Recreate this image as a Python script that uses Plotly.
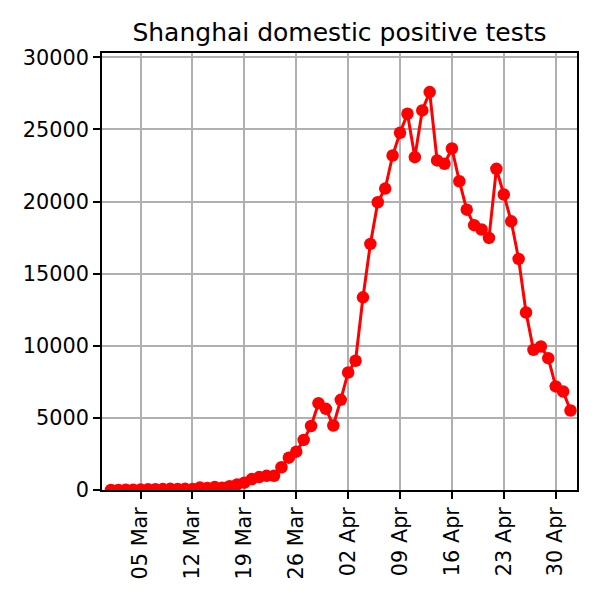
import pandas as pd
import plotly.graph_objects as go

start_date = "2022-03-01"
march = [2, 8, 16, 19, 28, 45, 55, 65, 79, 75, 83, 65, 169, 139, 202, 158, 260, 374,
         509, 758, 896, 981, 983, 1580, 2240, 2660, 3470, 4440, 6020, 5625, 4470]
april = [6250, 8150, 8960, 13360, 17060, 19950, 20900, 23190, 24770, 26090, 23080,
         26320, 27590, 22850, 22620, 23680, 21410, 19440, 18360, 18060, 17480, 22270,
         20490, 18630, 16020, 12310, 9720, 9950, 9140, 7180]
may = [6830, 5510]
values = march + april + may
dates = pd.date_range(start_date, periods=len(values), freq="D")

y_ticks = [0, 5000, 10000, 15000, 20000, 25000, 30000]
x_tick_dates = ["2022-03-05", "2022-03-12", "2022-03-19", "2022-03-26", "2022-04-02",
                "2022-04-09", "2022-04-16", "2022-04-23", "2022-04-30"]
title = "Shanghai domestic positive tests"

W, H = 592, 592
fig = go.Figure()
fig.add_trace(go.Scatter(
    x=dates, y=values, mode="lines+markers",
    line=dict(color="#ff0000", width=3),
    marker=dict(color="#ff0000", size=12.5),
    showlegend=False,
))

font_family = "DejaVu Sans"
tick_size = 20.8
fig.update_layout(
    width=W, height=H,
    margin=dict(l=94, r=23, t=45, b=110),
    paper_bgcolor="white", plot_bgcolor="white",
    font=dict(family=font_family, size=tick_size, color="black"),
    title=dict(text=title, x=331.5 / W, xanchor="center",
               y=1 - 24 / H, yanchor="middle",
               font=dict(family=font_family, size=25, color="black")),
)

axis_common = dict(
    showgrid=True, gridcolor="#b0b0b0", gridwidth=1.6,
    showline=True, linecolor="black", linewidth=1.6, mirror=True,
    ticks="outside", ticklen=7, tickwidth=1.6, tickcolor="black",
    tickfont=dict(family=font_family, size=tick_size, color="black"),
    zeroline=False,
)
fig.update_xaxes(
    type="date",
    range=["2022-02-27 19:00", "2022-05-02 21:00"],
    tickvals=x_tick_dates, tickformat="%d %b", tickangle=-90,
    **axis_common,
)
fig.update_yaxes(
    range=[0, 30300],
    tickvals=y_ticks, tickformat="d",
    **axis_common,
)

fig.write_html("out.html")
